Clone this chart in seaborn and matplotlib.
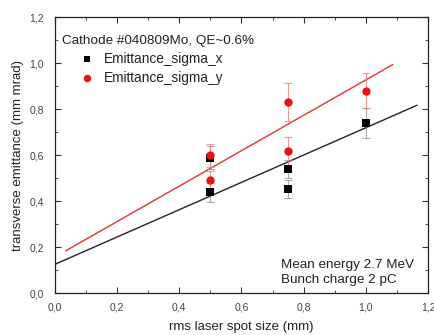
import numpy as np
import pandas as pd
import seaborn as sns
import matplotlib
matplotlib.use("Agg")
import matplotlib.pyplot as plt
from matplotlib.ticker import MultipleLocator, FuncFormatter

# ---- data ----
spot_x = [0.5, 0.5, 0.75, 0.75, 1.0]
emit_x = [0.438, 0.588, 0.539, 0.452, 0.740]
err_x = [0.04, 0.05, 0.04, 0.04, 0.065]

spot_y = [0.5, 0.5, 0.75, 0.75, 1.0]
emit_y = [0.491, 0.600, 0.832, 0.617, 0.880]
err_y = [0.04, 0.05, 0.083, 0.06, 0.075]

# linear fits: intercept, slope, x range
fit_x_params = [0.125, 0.594]
fit_x_range = [0.0, 1.165]
fit_y_params = [0.157, 0.77]
fit_y_range = [0.035, 1.087]

label_x = "Emittance_sigma_x"
label_y = "Emittance_sigma_y"
title_text = "Cathode #040809Mo, QE~0.6%"
note_lines = ["Mean energy 2.7 MeV", "Bunch charge 2 pC"]
xticks = [0.0, 0.2, 0.4, 0.6, 0.8, 1.0, 1.2]
yticks = [0.0, 0.2, 0.4, 0.6, 0.8, 1.0, 1.2]

sns.set_theme(style="ticks")
plt.rcParams['font.family'] = ['Liberation Sans', 'DejaVu Sans']

fig = plt.figure(figsize=(4.35, 3.35), dpi=100)
ax = fig.add_axes([0.126, 0.125, 0.858, 0.824])

df_x = pd.DataFrame({"spot": spot_x, "emit": emit_x, "err": err_x})
df_y = pd.DataFrame({"spot": spot_y, "emit": emit_y, "err": err_y})

# fit lines
fx = np.array(fit_x_range)
fy = np.array(fit_y_range)
sns.lineplot(x=fx, y=fit_x_params[0] + fit_x_params[1] * fx, ax=ax,
             color="#222222", lw=1.0, zorder=2)
sns.lineplot(x=fy, y=fit_y_params[0] + fit_y_params[1] * fy, ax=ax,
             color="#e83030", lw=1.0, zorder=2)

# error bars
ax.errorbar(df_x.spot, df_x.emit, yerr=df_x.err, fmt="none",
            ecolor="#888888", elinewidth=0.8, capsize=3, capthick=0.8, alpha=0.7, zorder=3)
ax.errorbar(df_y.spot, df_y.emit, yerr=df_y.err, fmt="none",
            ecolor="#f08080", elinewidth=0.8, capsize=3, capthick=0.8, alpha=0.8, zorder=3)

# points
sns.scatterplot(data=df_x, x="spot", y="emit", marker="s", color="black",
                s=28, edgecolor="black", linewidth=0, ax=ax, zorder=4, label=label_x)
sns.scatterplot(data=df_y, x="spot", y="emit", marker="o", color="#ee1111",
                s=36, edgecolor="#ee1111", linewidth=0, ax=ax, zorder=4, label=label_y)

ax.set_xlim(0, 1.2)
ax.set_ylim(0, 1.2)
ax.set_xticks(xticks)
ax.set_yticks(yticks)
ax.xaxis.set_minor_locator(MultipleLocator(0.1))
ax.yaxis.set_minor_locator(MultipleLocator(0.1))
fmt = FuncFormatter(lambda v, p: f"{v:.1f}".replace(".", ","))
ax.xaxis.set_major_formatter(fmt)
ax.yaxis.set_major_formatter(fmt)
ax.tick_params(which="both", direction="in", top=True, right=True,
               labelsize=7.5, labelcolor="#444444", color="#333333")
ax.tick_params(axis="x", which="major", pad=7)
ax.tick_params(axis="y", which="major", pad=8)
ax.tick_params(which="major", length=4, width=0.8)
ax.tick_params(which="minor", length=2, width=0.6)
for sp in ax.spines.values():
    sp.set_color("#222222")
    sp.set_linewidth(0.9)

ax.set_xlabel("rms laser spot size (mm)", fontsize=9.5, color="#222222", labelpad=6)
ax.set_ylabel("transverse emittance (mm mrad)", fontsize=9.5, color="#222222", labelpad=4)

leg = ax.legend(loc="upper left", bbox_to_anchor=(0.05, 0.893), frameon=False,
                fontsize=9.8, handletextpad=0.6, labelspacing=0.35,
                markerscale=0.9, handlelength=1.2, borderaxespad=0)
for t in leg.get_texts():
    t.set_color("#222222")

ax.text(0.02, 0.915, title_text, transform=ax.transAxes, fontsize=9.7,
        color="#222222", va="center", ha="left")
ax.text(0.605, 0.027, "\n".join(note_lines), transform=ax.transAxes, fontsize=9.7,
        color="#222222", va="bottom", ha="left", linespacing=1.25)

fig.savefig("out.png", dpi=100)
